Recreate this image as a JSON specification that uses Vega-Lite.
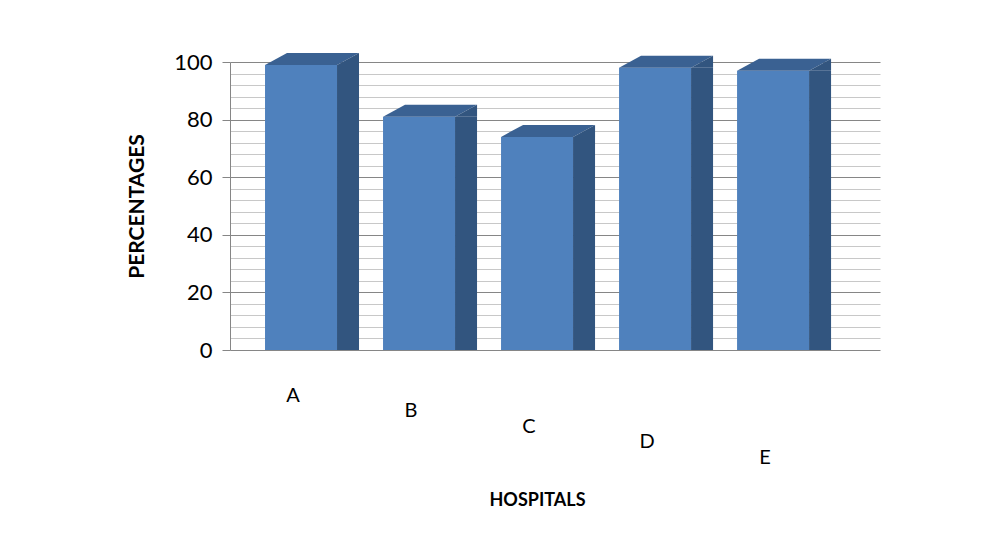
{
  "$schema": "https://vega.github.io/schema/vega-lite/v6.json",
  "autosize": "none",
  "width": 650,
  "height": 288,
  "padding": {"left": 230, "top": 62, "right": 104, "bottom": 203},
  "background": "white",
  "config": {
    "view": {"stroke": null},
    "font": "Lato"
  },
  "data": {
    "values": [
      {"hospital": "A", "percentage": 99},
      {"hospital": "B", "percentage": 81},
      {"hospital": "C", "percentage": 74},
      {"hospital": "D", "percentage": 98},
      {"hospital": "E", "percentage": 97}
    ]
  },
  "encoding": {
    "x": {
      "field": "hospital",
      "type": "nominal",
      "scale": {"paddingInner": 0, "paddingOuter": 0.254, "align": 0.067},
      "axis": {
        "title": "HOSPITALS",
        "titleFont": "Lato",
        "titleFontSize": 18,
        "titleFontWeight": "bold",
        "titleColor": "black",
        "titleX": 307,
        "titleY": 150,
        "titleBaseline": "middle",
        "titleAlign": "center",
        "labelAngle": 0,
        "labelFontSize": 20,
        "labelColor": "black",
        "labelFont": "Lato",
        "labelPadding": {"expr": "35 + 15.5 * indexof(['A','B','C','D','E'], datum.value)"},
        "domain": false,
        "ticks": false
      }
    },
    "y": {
      "field": "percentage",
      "type": "quantitative",
      "scale": {"domain": [0, 100], "nice": false},
      "axis": {
        "title": "PERCENTAGES",
        "titleFont": "Lato",
        "titleFontSize": 21,
        "titleFontWeight": "bold",
        "titleColor": "black",
        "titleX": -93,
        "titleY": 144,
        "titleAlign": "center",
        "titleBaseline": "middle",
        "values": [0, 4, 8, 12, 16, 20, 24, 28, 32, 36, 40, 44, 48, 52, 56, 60, 64, 68, 72, 76, 80, 84, 88, 92, 96, 100],
        "labelExpr": "datum.value % 20 === 0 ? datum.label : ''",
        "labelFontSize": 22,
        "labelColor": "black",
        "labelPadding": 10,
        "tickSize": 8,
        "tickColor": "#868686",
        "tickOpacity": {"condition": {"test": "datum.value % 20 === 0", "value": 1}, "value": 0},
        "domainColor": "#868686",
        "gridColor": {"condition": {"test": "datum.value % 20 === 0", "value": "#868686"}, "value": "#c8c8c8"},
        "gridWidth": 1.2
      }
    }
  },
  "layer": [
    {
      "mark": {"type": "bar", "width": 72, "xOffset": 8, "color": "#4F81BD"}
    },
    {
      "mark": {"type": "bar", "width": 22, "xOffset": 55, "color": "#32557F"}
    },
    {
      "mark": {
        "type": "point",
        "shape": "M -0.72 0 L 0.72 0 L 1.16 -0.24 L -0.28 -0.24 Z",
        "size": 10000,
        "filled": true,
        "opacity": 1,
        "strokeWidth": 0,
        "xOffset": 8,
        "color": "#3A6192"
      }
    },
    {
      "mark": {
        "type": "point",
        "shape": "M 0.72 0 L 1.16 -0.24 L 1.16 0 Z",
        "size": 10000,
        "filled": true,
        "opacity": 1,
        "strokeWidth": 0,
        "xOffset": 8,
        "color": "#32557F"
      }
    }
  ]
}
